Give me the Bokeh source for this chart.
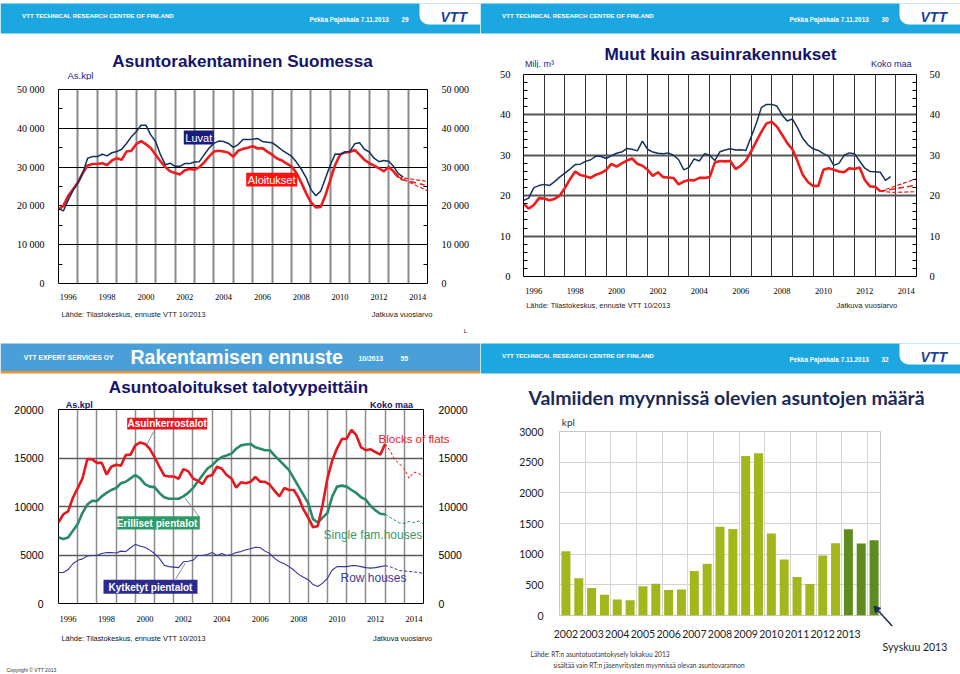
from bokeh.plotting import figure
from bokeh.models import (Range1d, LinearAxis, FixedTicker, Label, BoxAnnotation,
                          ColumnDataSource, Grid)
from bokeh.layouts import row, column
from bokeh.embed import file_html
from bokeh.resources import INLINE
from bokeh.core.properties import value

# ---------------- DATA ----------------
# Panel 1: Asuntorakentaminen Suomessa (quarterly rolling annual values, from 1996.0)
luvat = [19300, 18700, 21500, 24000, 26000, 28500, 32300, 32700,
         32700, 33300, 32900, 33700, 34000, 34600, 36100, 37800,
         39100, 40800, 40800, 38300, 36600, 33200, 30600, 31000,
         30200, 30200, 30900, 30900, 31300, 31400, 33200, 34900,
         36100, 36700, 36600, 36100, 35100, 35800, 37100, 37100,
         37200, 37400, 36600, 36400, 36300, 35400, 34400, 33600,
         32800, 31300, 29500, 27300, 24200, 22600, 23800, 27200,
         30600, 33400, 33300, 33900, 34000, 36000, 36300, 34600,
         33900, 32300, 31400, 31700, 31500, 30200, 28300, 27400]
aloitukset = [19100, 20000, 22600, 24300, 26000, 28500, 30400, 30800,
              30800, 31000, 30500, 31700, 32300, 31900, 34000, 34200,
              35900, 36700, 35900, 34900, 33200, 31500, 30000, 28900,
              28500, 28100, 29200, 29500, 29300, 30000, 31200, 32700,
              34000, 34200, 34000, 33700, 32700, 34200, 34700, 35000,
              35400, 34800, 34900, 34000, 33200, 32200, 31700, 30900,
              30200, 28500, 26000, 23300, 20900, 19600, 19700, 22800,
              26800, 30600, 33200, 33800, 33900, 34400, 33200, 31900,
              31000, 30400, 29700, 28900, 30000, 28900, 27400]
p1_fc_x = [2013.5, 2015.0]
p1_fc_upper = [27400, 26300]
p1_fc_lower = [27400, 23900]
p1_fc_mid_x = [2013.6, 2014.85]
p1_fc_mid = [26900, 25400]
p1_yticks = [0, 10000, 20000, 30000, 40000, 50000]
p1_ylabels = ["0", "10 000", "20 000", "30 000", "40 000", "50 000"]

# Panel 2: Muut kuin asuinrakennukset (milj. m3)
muut_luvat = [18.8, 19.4, 22.0, 22.5, 22.8, 22.5, 23.5, 24.6,
              25.6, 26.6, 27.7, 27.8, 28.5, 28.9, 29.8, 29.7,
              29.2, 29.9, 30.5, 30.8, 31.7, 31.5, 31.1, 33.5,
              31.5, 30.8, 30.5, 30.4, 30.6, 30.0, 28.9, 26.4,
              27.0, 29.1, 28.6, 30.4, 30.0, 28.7, 30.9, 31.3,
              31.6, 31.3, 31.4, 31.2, 34.5, 37.8, 41.8, 42.6,
              42.6, 42.2, 40.0, 38.5, 39.0, 36.8, 34.2, 32.6,
              31.6, 31.2, 30.4, 29.8, 27.5, 28.0, 30.0, 30.6,
              30.4, 28.6, 26.8, 26.0, 25.9, 25.8, 23.8, 24.7]
muut_aloitukset = [18.0, 16.8, 17.7, 19.4, 19.3, 18.9, 19.2, 20.0,
                   21.9, 24.1, 26.0, 25.1, 24.8, 24.4, 25.2, 25.6,
                   26.4, 27.9, 27.2, 28.0, 28.7, 29.2, 27.9, 27.4,
                   26.4, 24.9, 25.8, 24.6, 24.5, 24.4, 22.8, 23.5,
                   23.9, 23.8, 24.4, 24.4, 24.6, 28.2, 28.6, 28.5,
                   28.6, 26.6, 27.4, 28.7, 30.9, 33.4, 35.8, 37.9,
                   38.3, 37.1, 35.1, 33.0, 31.5, 28.5, 25.2, 23.4,
                   22.4, 22.4, 26.4, 26.8, 26.4, 26.0, 25.8, 26.8,
                   26.6, 27.0, 23.9, 22.3, 22.2, 21.1]
p2_fc_x = [2013.25, 2015.0]
p2_fc_upper = [21.1, 24.2]
p2_fc_mid = [21.1, 22.6]
p2_fc_lower_x = [2013.25, 2013.9, 2015.0]
p2_fc_lower = [21.1, 20.8, 21.0]
p2_yticks = [0, 10, 20, 30, 40, 50]

# Panel 3: Asuntoaloitukset talotyypeittäin (1996.0 - 2013.0, forecast 2013.0 - 2015.0)
kerrostalot = [8350, 9200, 9500, 10900, 11900, 12900, 14900, 14860,
               14500, 14500, 13300, 14100, 14300, 14200, 15300, 15350,
               16300, 16600, 16450, 15950, 15100, 14100, 13200, 13100,
               13100, 12850, 13850, 13650, 12900, 12650, 12300, 13100,
               13250, 14100, 13900, 13250, 12900, 11950, 12500, 12400,
               12550, 13050, 12550, 12550, 12250, 11600, 11050, 11900,
               11700, 11700, 10900, 9700, 8850, 7850, 8000, 10200,
               12900, 14750, 16000, 16950, 17000, 17900, 17350, 16100,
               15800, 15900, 15600, 15350, 16450]
erilliset = [6800, 6650, 6800, 7500, 8200, 9350, 10200, 10600,
             10550, 11050, 11400, 11700, 11900, 12400, 12550, 12900,
             13250, 12900, 12300, 12050, 12000, 11400, 10950, 10800,
             10800, 10800, 11050, 11400, 11900, 12550, 13250, 13900,
             14250, 14750, 15100, 15250, 15450, 15950, 16300, 16400,
             16450, 16100, 15950, 15800, 15800, 15250, 14750, 14250,
             13750, 12900, 12050, 11200, 10350, 8700, 8350, 8850,
             9350, 11050, 12050, 12150, 12050, 11700, 11400, 10950,
             10700, 10050, 9600, 9250, 9200]
kytketyt = [3200, 3200, 3500, 4100, 4450, 4600, 4900, 4950,
            4950, 5150, 5250, 5250, 5200, 5400, 5350, 5750,
            6100, 5900, 5800, 5500, 5150, 4650, 3950, 3800,
            3750, 3700, 4300, 4350, 4450, 4950, 4950, 5050,
            5250, 4950, 5150, 4950, 5050, 5250, 5350, 5550,
            5650, 5800, 5750, 5400, 5150, 4650, 4300, 4100,
            3800, 3450, 3000, 2700, 2450, 1950, 1750, 2100,
            2600, 3450, 3800, 3800, 3800, 3900, 3900, 3800,
            3700, 3650, 3700, 3800, 3900]
kerrostalot_fc = [16450, 15800, 14850, 14400, 13900, 12900, 13550, 13400, 13100]
erilliset_fc = [9200, 8900, 8600, 8300, 8250, 8450, 8350, 8500, 8200]
kytketyt_fc = [3900, 3800, 3600, 3400, 3350, 3300, 3250, 3200, 3100]
p3_yticks = [0, 5000, 10000, 15000, 20000]

# Panel 4: Valmiiden myynnissä olevien asuntojen määrä (half-year observations)
periods = ["2002/1", "2002/2", "2003/1", "2003/2", "2004/1", "2004/2", "2005/1", "2005/2",
           "2006/1", "2006/2", "2007/1", "2007/2", "2008/1", "2008/2", "2009/1", "2009/2",
           "2010/1", "2010/2", "2011/1", "2011/2", "2012/1", "2012/2", "2013/1", "2013/2",
           "2013/9"]
myynnissa = [1046, 607, 449, 338, 259, 248, 475, 518, 417, 423, 724, 845, 1447, 1410,
             2599, 2647, 1337, 914, 629, 512, 977, 1178, 1405, 1173, 1226]
p4_years = ["2002", "2003", "2004", "2005", "2006", "2007", "2008", "2009", "2010",
            "2011", "2012", "2013"]
p4_yticks = [0, 500, 1000, 1500, 2000, 2500, 3000]

year_labels = ["1996", "1998", "2000", "2002", "2004", "2006", "2008", "2010", "2012", "2014"]

# ---------------- STYLE ----------------
SANS = "Liberation Sans"
SERIF = "Liberation Serif"
CAL = "Lato"
HDR = "#1ca7e0"
HDR3 = "#4b9fd8"
ORANGE = "#e9952f"
TITLE_NAVY = "#14146a"
RED = "#ee1c1c"
DARKBLUE = "#10305e"
W = 480


def qx(vals, start=1996.0):
    return [start + 0.25 * i for i in range(len(vals))]


def base_fig(h, xr, yr, lb=0, rb=0, tb=0, bb=0):
    p = figure(width=W, height=h, x_range=xr, y_range=yr, output_backend="svg",
               toolbar_location=None, min_border_left=lb, min_border_right=rb,
               min_border_top=tb, min_border_bottom=bb, x_axis_type=None, y_axis_type=None)
    p.frame_align = False
    p.background_fill_color = "white"
    p.border_fill_color = "white"
    p.outline_line_color = None
    return p


def deco_fig(h):
    return base_fig(h, Range1d(0, W), Range1d(0, h))


def txt(p, off, cx, cy, text, size, color="#222222", font=SANS, style="normal",
        align="left", baseline="middle"):
    p.add_layout(Label(x=cx, y=cy - off, x_units="canvas", y_units="canvas", text=text,
                       text_font=font, text_font_size=f"{size}px", text_color=color,
                       text_font_style=style, text_align=align, text_baseline=baseline))


def box(p, off, l, t, r, b, color, radius=0):
    p.add_layout(BoxAnnotation(left=l, right=r, top=t - off, bottom=b - off,
                               left_units="canvas", right_units="canvas",
                               top_units="canvas", bottom_units="canvas",
                               fill_color=color, fill_alpha=1.0, line_color=None,
                               border_radius=radius))


def vtt_header(p, num):
    box(p, 0, 0, 3, W, 33, HDR)
    box(p, 0, 419, 3, W, 24, "white", radius=(0, 0, 0, 9))
    txt(p, 0, 21.5, 15, "VTT TECHNICAL RESEARCH CENTRE OF FINLAND", 6.2, "white", style="bold")
    txt(p, 0, 309, 18.5, "Pekka Pajakkala 7.11.2013", 6.4, "white", style="bold")
    txt(p, 0, 401, 18.5, num, 6.4, "white", style="bold")
    txt(p, 0, 440, 16.5, "VTT", 14, "#1f3f9a", style="bold italic")


def year_axes(p, size, standoff, yticks, ylabels, yfont, ysize, ystand, minor=None):
    xt = FixedTicker(ticks=[int(y) + 0.5 for y in year_labels])
    xax = LinearAxis(ticker=xt, major_label_overrides={int(y) + 0.5: y for y in year_labels})
    xax.axis_line_color = None
    xax.major_tick_line_color = None
    xax.minor_tick_line_color = None
    xax.major_label_text_font = SERIF
    xax.major_label_text_font_size = f"{size}px"
    xax.major_label_text_color = "black"
    xax.major_label_standoff = standoff
    p.add_layout(xax, "below")
    for side in ("left", "right"):
        yt = FixedTicker(ticks=yticks, minor_ticks=minor or [])
        yax = LinearAxis(ticker=yt, major_label_overrides=dict(zip(yticks, ylabels)))
        yax.axis_line_color = None
        yax.major_tick_line_color = None
        yax.minor_tick_in = 4
        yax.minor_tick_out = 0
        yax.minor_tick_line_color = "black"
        yax.major_label_text_font = yfont
        yax.major_label_text_font_size = f"{ysize}px"
        yax.major_label_text_color = "black"
        yax.major_label_standoff = ystand
        p.add_layout(yax, side)


def unit_axis(p, ticks, labels, font, size, color, standoff, style="normal"):
    ax = LinearAxis(ticker=FixedTicker(ticks=ticks),
                    major_label_overrides=dict(zip(ticks, labels)))
    ax.axis_line_color = None
    ax.major_tick_line_color = None
    ax.minor_tick_line_color = None
    ax.major_tick_out = 0
    ax.major_label_text_font = font
    ax.major_label_text_font_size = f"{size}px"
    ax.major_label_text_color = color
    ax.major_label_text_font_style = style
    ax.major_label_standoff = standoff
    p.add_layout(ax, "above")


def year_grids(p, vcol, vw, hticks, hcol, hw):
    p.add_layout(Grid(dimension=0, ticker=FixedTicker(ticks=list(range(1996, 2016))),
                      grid_line_color=vcol, grid_line_width=vw))
    p.add_layout(Grid(dimension=1, ticker=FixedTicker(ticks=hticks),
                      grid_line_color=hcol, grid_line_width=hw))


# ================= PANEL 1 =================
h1 = deco_fig(80)
vtt_header(h1, "29")
txt(h1, 0, 242, 61, "Asuntorakentaminen Suomessa", 17.1, TITLE_NAVY, style="bold", align="center")
txt(h1, 0, 67, 75, "As.kpl", 9.5, "#23238a")

OFF1 = 80
c1 = base_fig(222, Range1d(1996, 2015), Range1d(0, 50000), 58, 53, 9, 17)
c1.outline_line_color = "black"
year_axes(c1, 8.5, 4, p1_yticks, p1_ylabels, SERIF, 10, 8,
          minor=[5000, 15000, 25000, 35000, 45000])
year_grids(c1, "#8a8a8a", 2, p1_yticks, "black", 1)
c1.line(qx(aloitukset), aloitukset, line_color=RED, line_width=2.6)
c1.line(qx(luvat), luvat, line_color=DARKBLUE, line_width=1.5)
c1.line(p1_fc_x, p1_fc_upper, line_color=RED, line_width=1.2, line_dash="4 2")
c1.line(p1_fc_x, p1_fc_lower, line_color=RED, line_width=1.2, line_dash="4 2")
c1.line(p1_fc_mid_x, p1_fc_mid, line_color=RED, line_width=1.6, line_dash="6 4")
box(c1, OFF1, 183.3, 130, 213.3, 144, "#1b1b78")
txt(c1, OFF1, 198.3, 137, "Luvat", 11, "white", align="center")
box(c1, OFF1, 245.7, 172.3, 296.7, 186, "#ff1010")
txt(c1, OFF1, 271.2, 179.2, "Aloitukset", 11, "white", align="center")

OFFF1 = 302
f1 = deco_fig(38)
txt(f1, OFFF1, 61, 313.5, "Lähde: Tilastokeskus, ennuste VTT 10/2013", 7.4, "#222222")
txt(f1, OFFF1, 432, 313.5, "Jatkuva vuosiarvo", 7.6, "#222222", align="right")
txt(f1, OFFF1, 465, 330, "L", 6, "#222222", align="center")
panel1 = column(h1, c1, f1)

# ================= PANEL 2 =================
h2 = deco_fig(68)
vtt_header(h2, "30")
txt(h2, 0, 240, 53.5, "Muut kuin asuinrakennukset", 17.2, TITLE_NAVY, style="bold", align="center")
txt(h2, 0, 44.5, 63.5, "Milj. m³", 9, "#23238a")
txt(h2, 0, 431, 63.5, "Koko maa", 9, "#23238a", align="right")

c2 = base_fig(228, Range1d(1996, 2015), Range1d(0, 50), 43, 44, 6, 19)
c2.outline_line_color = "black"
year_axes(c2, 8.5, 5, p2_yticks, [str(v) for v in p2_yticks], SERIF, 10.5, 7,
          minor=[2, 4, 6, 8, 12, 14, 16, 18, 22, 24, 26, 28, 32, 34, 36, 38, 42, 44, 46, 48])
year_grids(c2, "#333333", 1, p2_yticks, "#555555", 2)
c2.line(qx(muut_aloitukset), muut_aloitukset, line_color=RED, line_width=2.6)
c2.line(qx(muut_luvat), muut_luvat, line_color="#16325f", line_width=1.5)
c2.line(p2_fc_x, p2_fc_upper, line_color=RED, line_width=1.2, line_dash="4 2")
c2.line(p2_fc_x, p2_fc_mid, line_color=RED, line_width=1.6, line_dash="6 3")
c2.line(p2_fc_lower_x, p2_fc_lower, line_color=RED, line_width=1.2, line_dash="4 2")

OFFF2 = 296
f2 = deco_fig(44)
txt(f2, OFFF2, 45.7, 305, "Lähde: Tilastokeskus, ennuste VTT 10/2013", 7.4, "#222222")
txt(f2, OFFF2, 416.7, 305, "Jatkuva vuosiarvo", 7.6, "#222222", align="right")
panel2 = column(h2, c2, f2)

# ================= PANEL 3 =================
h3 = deco_fig(56)
box(h3, 0, 0, 3, W, 30.5, HDR3)
box(h3, 0, 0, 30.5, W, 33, ORANGE)
txt(h3, 0, 23.3, 16.5, "VTT EXPERT SERVICES OY", 6.8, "white", style="bold")
txt(h3, 0, 130, 16, "Rakentamisen ennuste", 19.5, "white", style="bold")
txt(h3, 0, 358, 18, "10/2013", 6.8, "white", style="bold")
txt(h3, 0, 400, 18, "55", 6.8, "white", style="bold")
txt(h3, 0, 238, 46.5, "Asuntoaloitukset talotyypeittäin", 17.1, TITLE_NAVY, style="bold", align="center")

OFF3 = 56
c3 = base_fig(228, Range1d(1996, 2015), Range1d(0, 20000), 58, 57, 11, 20)
c3.outline_line_color = "black"
year_axes(c3, 8.5, 6, p3_yticks, [str(v) for v in p3_yticks], SANS, 10.5, 9)
unit_axis(c3, [1997.08, 2013.34], ["As.kpl", "Koko maa"], SANS, 9, "#14146a", 0, style="bold")
year_grids(c3, "#8c8c8c", 1.5, p3_yticks, "#5a5a5a", 1.5)
fcx = qx(kerrostalot_fc, 2013.0)
c3.line(qx(kytketyt), kytketyt, line_color="#34349c", line_width=1.1)
c3.line(fcx, kytketyt_fc, line_color="#34349c", line_width=1, line_dash="3 2")
c3.line(qx(erilliset), erilliset, line_color="#2a8a68", line_width=2.6)
c3.line(fcx, erilliset_fc, line_color="#2a8a68", line_width=1, line_dash="3 2")
c3.line(qx(kerrostalot), kerrostalot, line_color="#e5171f", line_width=2.6)
c3.line(fcx, kerrostalot_fc, line_color="#e5171f", line_width=1, line_dash="3 2")
c3.segment(x0=[2000.95, 2003.34, 2002.1], y0=[17700, 8900, 2540],
           x1=[2000.6, 2002.6, 2002.6], y1=[16400, 10850, 4160],
           line_color="#8a8a8a", line_width=1)
box(c3, OFF3, 126.7, 77.3, 206.7, 89, "#e5171f")
txt(c3, OFF3, 166.7, 83.3, "Asuinkerrostalot", 10, "white", style="bold", align="center")
box(c3, OFF3, 116.7, 175.7, 199.3, 189, "#2e9a68")
txt(c3, OFF3, 158, 182.5, "Erilliset  pientalot", 10, "white", style="bold", align="center")
box(c3, OFF3, 103, 239.3, 197, 253.3, "#2b2b8e")
txt(c3, OFF3, 150, 246.5, "Kytketyt pientalot", 10, "white", style="bold", align="center")
c3.text(x=[2012.66], y=[16950], text=["Blocks of flats"], text_font=value(SANS),
        text_font_size="11.5px", text_color="#e5171f", text_baseline="middle", level="overlay")
c3.text(x=[2009.8], y=[7105], text=["Single fam.houses"], text_font=value(SANS),
        text_font_size="12px", text_color="#3a9a6c", text_baseline="middle", level="overlay")
c3.text(x=[2010.68], y=[2640], text=["Row houses"], text_font=value(SANS),
        text_font_size="12px", text_color="#3a3a9c", text_baseline="middle", level="overlay")

OFFF3 = 284
f3 = deco_fig(50)
txt(f3, OFFF3, 61, 298.3, "Lähde: Tilastokeskus, ennuste  VTT 10/2013", 7.4, "#111111")
txt(f3, OFFF3, 431.7, 298.3, "Jatkuva vuosiarvo", 7.4, "#111111", align="right")
txt(f3, OFFF3, 6, 329, "Copyright © VTT 2013", 5, "#333333")
panel3 = column(h3, c3, f3)

# ================= PANEL 4 =================
h4 = deco_fig(70)
vtt_header(h4, "32")
txt(h4, 0, 246, 57, "Valmiiden myynnissä olevien asuntojen määrä", 19.5, "#1c2a57",
    font=CAL, style="bold", align="center")

c4 = base_fig(230, Range1d(-0.5, 24.5), Range1d(0, 3000), 79, 80, 21, 20)
c4.outline_line_color = "#c8c8c8"
xt4 = FixedTicker(ticks=[2 * i for i in range(len(p4_years))])
xax4 = LinearAxis(ticker=xt4, major_label_overrides={2 * i: y for i, y in enumerate(p4_years)})
yax4 = LinearAxis(ticker=FixedTicker(ticks=p4_yticks))
for ax, st in ((xax4, 8), (yax4, 10)):
    ax.axis_line_color = None
    ax.major_tick_line_color = None
    ax.minor_tick_line_color = None
    ax.major_label_text_font = CAL
    ax.major_label_text_font_size = "10.5px"
    ax.major_label_text_color = "#222222"
    ax.major_label_standoff = st
c4.add_layout(xax4, "below")
c4.add_layout(yax4, "left")
unit_axis(c4, [0.19], ["kpl"], CAL, 10, "#333333", 4)
c4.add_layout(Grid(dimension=0, ticker=FixedTicker(ticks=[2 * i - 0.5 for i in range(13)]),
                   grid_line_color="#d4d4d4", grid_line_width=1))
c4.add_layout(Grid(dimension=1, ticker=FixedTicker(ticks=p4_yticks),
                   grid_line_color="#d4d4d4", grid_line_width=1))
n_dark = 3
bar_cols = ["#a3b61b"] * (len(myynnissa) - n_dark) + ["#5f8c1e"] * n_dark
src4 = ColumnDataSource(dict(x=list(range(len(myynnissa))), top=myynnissa,
                             period=periods, color=bar_cols))
c4.vbar(x="x", top="top", width=0.7, bottom=0, source=src4, fill_color="color", line_color=None)
# pointer arrow to the latest observation
c4.segment(x0=[25.41], y0=[-170], x1=[24.2], y1=[105], line_color="#1c2a57",
           line_width=1.5, level="overlay")
c4.scatter(x=[24.2], y=[105], marker="triangle", size=7, angle=0.74,
           fill_color="#1c2a57", line_color="#1c2a57", level="overlay")

OFFF4 = 300
f4 = deco_fig(34)
txt(f4, OFFF4, 402, 306.5, "Syyskuu 2013", 10.5, "#222222", font=CAL)
txt(f4, OFFF4, 50, 313, "Lähde: RT:n asuntotuotantokysely lokakuu 2013", 6.6, "#333333", font=CAL)
txt(f4, OFFF4, 72.7, 324.5, "sisältää vain RT:n jäsenyritysten myynnissä olevan asuntovarannon", 6.6,
    "#333333", font=CAL)
panel4 = column(h4, c4, f4)

layout = column(row(panel1, panel2), row(panel3, panel4))
open("out.html", "w").write(file_html(layout, INLINE))
